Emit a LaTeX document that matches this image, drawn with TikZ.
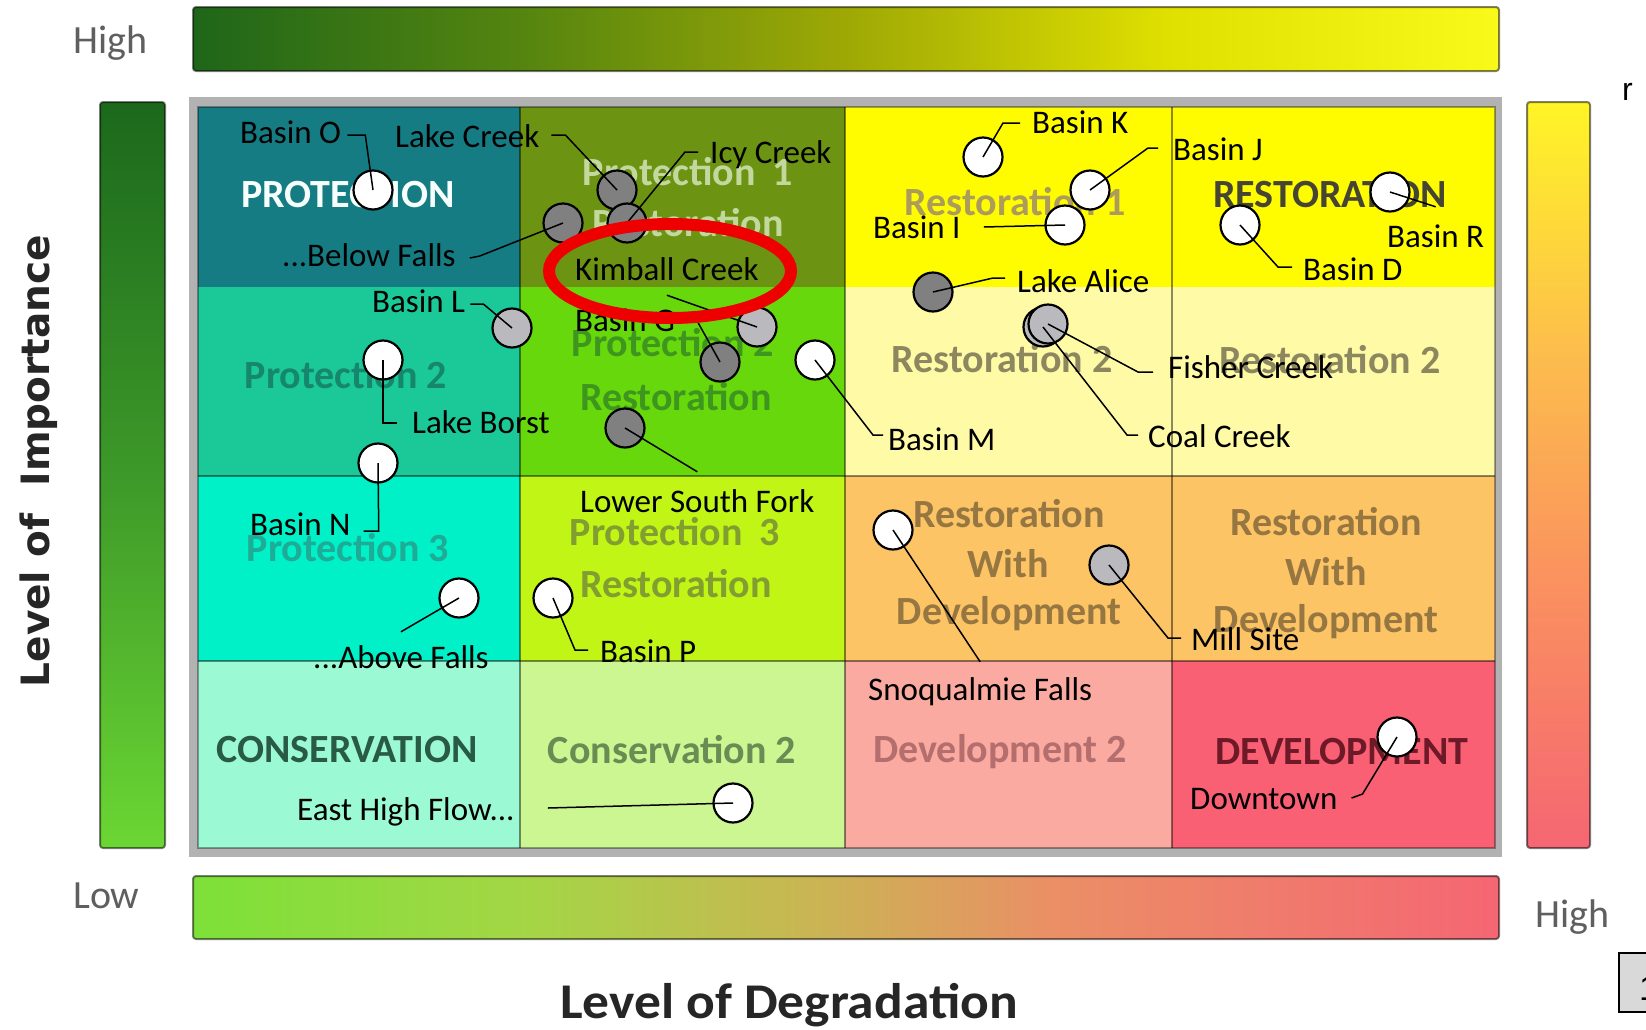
\documentclass[tikz,border=0pt]{standalone}
\usepackage{fontspec}
\setmainfont{Carlito}
\newfontfamily\dejavu{DejaVu Sans}
\newfontfamily\libsans{Liberation Sans}
\newfontfamily\widecal[FakeStretch=1.07]{Carlito}
\pgfdeclarehorizontalshading{topbarshade}{100bp}{rgb(0bp)=(0.12,0.40,0.10); rgb(25bp)=(0.12,0.40,0.10); rgb(37.5bp)=(0.33,0.52,0.06); rgb(50bp)=(0.62,0.66,0.02); rgb(62.5bp)=(0.88,0.88,0.0); rgb(75bp)=(0.98,0.98,0.10); rgb(100bp)=(0.98,0.98,0.10)}
\pgfdeclarehorizontalshading{botbarshade}{100bp}{rgb(0bp)=(0.49,0.88,0.22); rgb(25bp)=(0.49,0.88,0.22); rgb(37.5bp)=(0.64,0.84,0.27); rgb(48bp)=(0.78,0.72,0.32); rgb(58bp)=(0.92,0.56,0.40); rgb(75bp)=(0.96,0.40,0.45); rgb(100bp)=(0.96,0.40,0.45)}
\pgfdeclareverticalshading{leftbarshade}{100bp}{rgb(0bp)=(0.42,0.84,0.20); rgb(25bp)=(0.42,0.84,0.20); rgb(50bp)=(0.24,0.60,0.16); rgb(75bp)=(0.11,0.41,0.11); rgb(100bp)=(0.11,0.41,0.11)}
\pgfdeclareverticalshading{rightbarshade}{100bp}{rgb(0bp)=(0.96,0.40,0.45); rgb(25bp)=(0.96,0.40,0.45); rgb(41bp)=(0.98,0.55,0.38); rgb(58bp)=(0.99,0.74,0.30); rgb(75bp)=(1.0,0.96,0.15); rgb(100bp)=(1.0,0.96,0.15)}
\definecolor{rAc}{RGB}{22,124,132}
\definecolor{rAd}{RGB}{108,148,18}
\definecolor{rAe}{RGB}{255,252,0}
\definecolor{rBc}{RGB}{26,200,152}
\definecolor{rBd}{RGB}{102,216,12}
\definecolor{rBe}{RGB}{255,250,165}
\definecolor{rCc}{RGB}{0,240,200}
\definecolor{rCd}{RGB}{192,245,22}
\definecolor{rCe}{RGB}{253,196,102}
\definecolor{rDc}{RGB}{155,250,212}
\definecolor{rDd}{RGB}{204,246,145}
\definecolor{rDe}{RGB}{250,170,160}
\definecolor{rDf}{RGB}{250,96,116}
\definecolor{cLight}{RGB}{185,185,190}
\definecolor{cDark}{RGB}{128,128,128}
\definecolor{ringred}{RGB}{238,0,0}
\definecolor{axisgray}{RGB}{95,95,95}
\definecolor{titlegray}{RGB}{38,38,38}
\definecolor{tProtA}{RGB}{246,255,252}
\definecolor{tProtB}{RGB}{195,216,158}
\definecolor{tRestA}{RGB}{172,156,92}
\definecolor{tRestB}{RGB}{70,68,50}
\definecolor{tProtC}{RGB}{22,135,108}
\definecolor{tProtD}{RGB}{62,150,30}
\definecolor{tRestC}{RGB}{140,135,95}
\definecolor{tProtE}{RGB}{30,172,150}
\definecolor{tProtF}{RGB}{130,158,48}
\definecolor{tRestD}{RGB}{150,118,65}
\definecolor{tCons}{RGB}{40,90,70}
\definecolor{tConsB}{RGB}{105,140,85}
\definecolor{tDevB}{RGB}{180,110,110}
\definecolor{tDev}{RGB}{110,25,40}
\begin{document}
\begin{tikzpicture}[x=1pt,y=-1pt,
  lbl/.style={font=\fontsize{33}{40}\selectfont, text=black, inner sep=0pt, anchor=base west, text height=23pt, text depth=7pt},
  zone/.style={font=\fontsize{40}{48}\selectfont\bfseries, inner sep=0pt, anchor=base},
  basin/.style={circle, draw=black, line width=2.2pt, minimum size=39pt, inner sep=0pt},
  wht/.style={basin, fill=white},
  lgr/.style={basin, fill=cLight},
  dgr/.style={basin, fill=cDark},
  lead/.style={draw=black, line width=1.5pt},
  barline/.style={draw=black, draw opacity=0.5, line width=2pt, rounded corners=3pt},
  divider/.style={draw=black, draw opacity=0.45, line width=2.5pt},
  axistxt/.style={font=\fontsize{40}{48}\selectfont, text=axisgray, inner sep=0pt, anchor=base west}
]
\fill[white] (0,0) rectangle (1646,1029);
\useasboundingbox (0,0) rectangle (1646,1029);

% gradient bars
\shadedraw[shading=topbarshade, barline] (193,7) rectangle (1499,71);
\shadedraw[shading=botbarshade, barline] (193,876) rectangle (1499,939);
\shadedraw[shading=leftbarshade, barline] (100,102) rectangle (165,848);
\shadedraw[shading=rightbarshade, barline] (1527,102) rectangle (1590,848);

% axis texts
\node[axistxt] (hightop) at (73,53) {High};
\node[axistxt] (lowtxt) at (73,908) {Low};
\node[axistxt] (highright) at (1535,927) {High};
\node[rotate=90, anchor=base, inner sep=0pt, text=titlegray, font=\dejavu\bfseries\fontsize{39}{47}\selectfont] (importance) at (49,461) {Level of\ \ Importance};
\node[anchor=base, inner sep=0pt, text=titlegray, font=\widecal\bfseries\fontsize{50}{58}\selectfont] (degradation) at (789,1018) {Level of Degradation};
\node[anchor=base west, inner sep=0pt, font=\libsans\fontsize{32}{38}\selectfont] (rchar) at (1622,100) {r};
\draw[fill=gray!30, line width=2.5pt] (1619,953) rectangle (1665,1012);
\node[anchor=base west, inner sep=0pt, font=\libsans\fontsize{35}{40}\selectfont] (pagenum) at (1639,1000) {1};

% matrix frame and cells
\fill[gray!60] (189,97) rectangle (1502,857);
\fill[rAc] (198,107) rectangle (520,287);
\fill[rAd] (520,107) rectangle (845,287);
\fill[rAe] (845,107) rectangle (1495,287);
\fill[rBc] (198,287) rectangle (520,476);
\fill[rBd] (520,287) rectangle (845,476);
\fill[rBe] (845,287) rectangle (1495,476);
\fill[rCc] (198,476) rectangle (520,661);
\fill[rCd] (520,476) rectangle (845,661);
\fill[rCe] (845,476) rectangle (1495,661);
\fill[rDc] (198,661) rectangle (520,848);
\fill[rDd] (520,661) rectangle (845,848);
\fill[rDe] (845,661) rectangle (1172,848);
\fill[rDf] (1172,661) rectangle (1495,848);
\draw[divider] (520,107) -- (520,848);
\draw[divider] (845,107) -- (845,848);
\draw[divider] (1172,107) -- (1172,848);
\draw[divider] (198,476) -- (1495,476);
\draw[divider] (198,661) -- (1495,661);
\draw[draw=black, draw opacity=0.35, line width=2pt] (198,107) rectangle (1495,848);

% zone labels
\node[zone, text=tProtA] (zP) at (348,207) {PROTECTION};
\node[zone, text=tProtB] (zP1a) at (688,185) {Protection\hspace{8pt} 1};
\node[zone, text=tProtB] (zP1b) at (688,236) {Restoration};
\node[zone, text=tRestA] (zR1) at (1015,215) {Restoration 1};
\node[zone, text=tRestB] (zR) at (1330,207) {RESTORATION};
\node[zone, text=tProtC] (zP2) at (346,388) {Protection 2};
\node[zone, text=tProtD] (zP2a) at (673,356) {Protection 2};
\node[zone, text=tProtD] (zP2b) at (676,410) {Restoration};
\node[zone, text=tRestC] (zR2a) at (1002,372) {Restoration 2};
\node[zone, text=tRestC] (zR2b) at (1330,373) {Restoration 2};
\node[zone, text=tProtE] (zP3) at (348,561) {Protection 3};
\node[zone, text=tProtF] (zP3a) at (675,545) {Protection\hspace{8pt} 3};
\node[zone, text=tProtF] (zP3b) at (676,597) {Restoration};
\node[zone, text=tRestD] (zRWa1) at (1009,527) {Restoration};
\node[zone, text=tRestD] (zRWa2) at (1008,577) {With};
\node[zone, text=tRestD] (zRWa3) at (1009,624) {Development};
\node[zone, text=tRestD] (zRWb1) at (1326,535) {Restoration};
\node[zone, text=tRestD] (zRWb2) at (1326,585) {With};
\node[zone, text=tRestD] (zRWb3) at (1326,632) {Development};
\node[zone, text=tCons] (zC) at (347,762) {CONSERVATION};
\node[zone, text=tConsB] (zC2) at (672,763) {Conservation 2};
\node[zone, text=tDevB] (zD2) at (1000,762) {Development 2};
\node[zone, text=tDev] (zD) at (1342,764) {DEVELOPMENT};

% basins
\node[wht] (cO) at (373,190) {};
\node[dgr] (cLC) at (617,190) {};
\node[dgr] (cIcy) at (627,223) {};
\node[dgr] (cBF) at (563,223) {};
\node[lgr] (cL) at (512,328) {};
\node[lgr] (cKim) at (757,327) {};
\node[dgr] (cG) at (720,362) {};
\node[wht] (cLB) at (383,360) {};
\node[wht] (cN) at (378,463) {};
\node[wht] (cM) at (815,360) {};
\node[dgr] (cLSF) at (625,428) {};
\node[wht] (cAF) at (459,598) {};
\node[wht] (cP) at (553,598) {};
\node[wht] (cEHF) at (733,803) {};
\node[wht] (cK) at (983,157) {};
\node[wht] (cJ) at (1090,190) {};
\node[wht] (cI) at (1065,225) {};
\node[dgr] (cLA) at (933,292) {};
\node[lgr] (cC) at (1043,327) {};
\node[lgr] (cF) at (1048,324) {};
\node[wht] (cR) at (1390,192) {};
\node[wht] (cD) at (1240,225) {};
\node[wht] (cS) at (893,530) {};
\node[lgr] (cMS) at (1109,565) {};
\node[wht] (cDT) at (1397,737) {};

% labels
\node[lbl] (lO) at (240,143) {Basin O};
\node[lbl] (lLC) at (395,147) {Lake Creek};
\node[lbl] (lIcy) at (710,163) {Icy Creek};
\node[lbl] (lBF) at (282,266) {...Below Falls};
\node[lbl] (lL) at (372,312) {Basin L};
\node[lbl] (lKim) at (575,280) {Kimball Creek};
\node[lbl] (lG) at (575,331) {Basin G};
\node[lbl] (lLB) at (412,433) {Lake Borst};
\node[lbl] (lN) at (250,535) {Basin N};
\node[lbl] (lM) at (888,450) {Basin M};
\node[lbl] (lLSF) at (580,512) {Lower South Fork};
\node[lbl] (lAF) at (313,668) {...Above Falls};
\node[lbl] (lP) at (600,662) {Basin P};
\node[lbl] (lEHF) at (297,820) {East High Flow...};
\node[lbl] (lK) at (1032,133) {Basin K};
\node[lbl] (lJ) at (1173,160) {Basin J};
\node[lbl] (lI) at (873,238) {Basin I};
\node[lbl] (lLA) at (1017,292) {Lake Alice};
\node[lbl] (lF) at (1168,378) {Fisher Creek};
\node[lbl] (lC) at (1148,447) {Coal Creek};
\node[lbl] (lR) at (1387,247) {Basin R};
\node[lbl] (lD) at (1303,280) {Basin D};
\node[lbl] (lS) at (868,700) {Snoqualmie Falls};
\node[lbl] (lMS) at (1191,650) {Mill Site};
\node[lbl] (lDT) at (1190,809) {Downtown};

% leaders
\draw[lead] ([xshift=6pt]lO.east) -- ++(18,0) -- (cO.center);
\draw[lead] ([xshift=12pt,yshift=4pt]lLC.east) -- ++(14,0) -- (cLC.center);
\draw[lead] ([xshift=-12pt,yshift=3pt]lIcy.west) -- ++(-13,0) -- (cIcy.center);
\draw[lead] ([xshift=14pt]lBF.east) -- ++(10,-2) -- (cBF.center);
\draw[lead] ([xshift=5pt]lL.east) -- ++(13,0) -- (cL.center);
\draw[lead] ([yshift=-8pt]lKim.south) -- (cKim.center);
\draw[lead] ([xshift=23pt]lG.east) -- (cG.center);
\draw[lead] ([xshift=-15pt,yshift=2pt]lLB.west) -- ++(-14,0) -- (cLB.center);
\draw[lead] ([xshift=13pt,yshift=-4pt]lN.east) -- ++(15,0) -- (cN.center);
\draw[lead] ([xshift=-5pt,yshift=7pt]lM.west) -- ++(-10,0) -- (cM.center);
\draw[lead] ([yshift=17pt]lLSF.north) -- (cLSF.center);
\draw[lead] ([yshift=13pt]lAF.north) -- (cAF.center);
\draw[lead] ([xshift=-12pt,yshift=4pt]lP.west) -- ++(-13,0) -- (cP.center);
\draw[lead] ([xshift=33pt,yshift=4pt]lEHF.east) -- (cEHF.center);
\draw[lead] ([xshift=-12pt,yshift=2pt]lK.west) -- ++(-17,0) -- (cK.center);
\draw[lead] ([xshift=-15pt,yshift=4pt]lJ.west) -- ++(-10,0) -- (cJ.center);
\draw[lead] ([xshift=23pt,yshift=3pt]lI.east) -- (cI.center);
\draw[lead] ([xshift=-12pt,yshift=6pt]lLA.west) -- ++(-12,0) -- (cLA.center);
\draw[lead] ([xshift=-15pt,yshift=-2pt]lF.west) -- ++(-15,0) -- (cF.center);
\draw[lead] ([xshift=-10pt,yshift=4pt]lC.west) -- ++(-11,0) -- (cC.center);
\draw[lead] ([yshift=17pt]lR.north) -- (cR.center);
\draw[lead] ([xshift=-11pt,yshift=5pt]lD.west) -- ++(-14,0) -- (cD.center);
\draw[lead] ([yshift=15pt]lS.north) -- (cS.center);
\draw[lead] ([xshift=-10pt,yshift=4pt]lMS.west) -- ++(-13,0) -- (cMS.center);
\draw[lead] ([xshift=14pt,yshift=3pt]lDT.east) -- ++(11,-4) -- (cDT.center);

% highlight ring
\draw[ringred, line width=12pt] (670,271) ellipse [x radius=121, y radius=47];
\end{tikzpicture}
\end{document}
